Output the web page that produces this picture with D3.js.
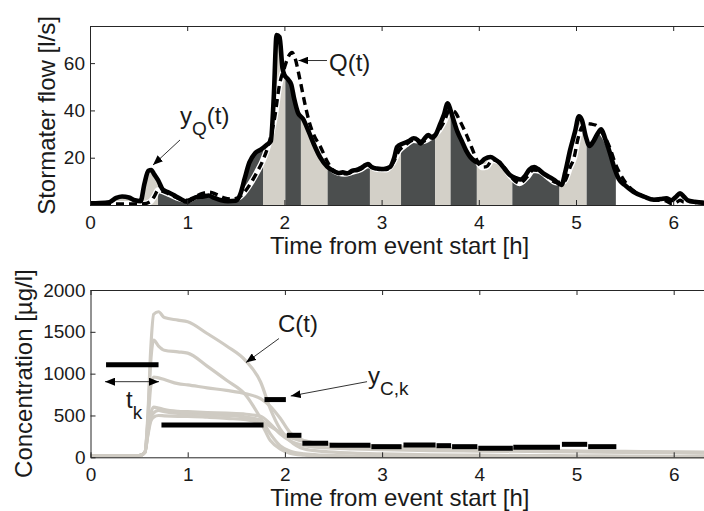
<!DOCTYPE html>
<html><head><meta charset="utf-8">
<script src="https://cdn.jsdelivr.net/npm/d3@7"></script>
<style>
body{margin:0;background:#fff}
svg{display:block}
text{font-family:"Liberation Sans",Arial,Helvetica,sans-serif;fill:#1a1a1a}
</style>
</head><body>
<svg id="c" width="704" height="511"></svg>
<script>
// ---------- data ----------
const xTicks = [0, 1, 2, 3, 4, 5, 6];
const flowTicks = [20, 40, 60];
const concTicks = [0, 500, 1000, 1500, 2000];

// y_Q(t) : solid line (l/s)
const yQTime = [0.00,0.10,0.20,0.27,0.33,0.40,0.46,0.52,0.56,0.60,0.63,0.66,0.70,0.75,0.80,0.86,0.92,1.00,1.05,1.10,1.17,1.22,1.28,1.35,1.42,1.50,1.55,1.59,1.64,1.70,1.76,1.82,1.86,1.89,1.92,1.95,1.98,2.00,2.03,2.07,2.10,2.14,2.19,2.25,2.30,2.37,2.44,2.50,2.56,2.60,2.65,2.70,2.74,2.78,2.82,2.86,2.90,2.95,3.00,3.05,3.09,3.13,3.16,3.22,3.28,3.33,3.37,3.40,3.44,3.48,3.52,3.56,3.60,3.64,3.68,3.71,3.74,3.78,3.82,3.87,3.91,3.96,4.01,4.06,4.12,4.17,4.22,4.27,4.32,4.38,4.43,4.48,4.52,4.57,4.61,4.66,4.72,4.78,4.85,4.89,4.94,4.99,5.03,5.06,5.10,5.14,5.18,5.22,5.26,5.30,5.35,5.40,5.44,5.50,5.59,5.70,5.80,5.87,5.93,5.98,6.03,6.07,6.11,6.15,6.22,6.30,6.40];
const yQValue = [0.7,0.8,1.2,3.0,3.6,3.2,2.0,1.6,9,14.5,14.8,13.0,10.5,6.5,5.5,4.2,2.8,1.4,2.5,3.4,3.6,4.0,3.0,2.0,1.6,1.8,5,11,18,22,23.5,25.5,27,45,71.9,71,58,55,53.5,51,45,39,36.5,31,26,20,16.2,14.5,13.5,13.8,13.4,14.5,14.8,15.5,16.5,17.3,16,15.4,15.2,15.5,16.2,20,24.5,26,27,28.2,27.5,26,28,29.6,28.5,30,34,38,43,40,36,31,27.5,23,20.4,18.5,17.8,19.5,20.3,19.2,17.6,15,12.7,11.4,10.8,12.5,15,16,15.2,13.5,12,10.5,8.5,14,23.3,31,37.5,36,29,25,27,30,32,28,21.9,15,11,8.5,5.6,3.5,2.2,2.5,2.8,2.0,3.5,5,3.5,2.0,1.4,1.0,0.9];

// Q(t) : dashed line (l/s)
const qTime = [0.00,0.30,0.55,0.62,0.66,0.70,0.75,0.82,0.90,1.00,1.08,1.15,1.23,1.30,1.38,1.45,1.52,1.58,1.65,1.72,1.78,1.84,1.90,1.95,2.00,2.04,2.08,2.11,2.16,2.21,2.26,2.31,2.37,2.44,2.50,2.56,2.62,2.70,2.78,2.86,2.95,3.05,3.12,3.18,3.25,3.33,3.42,3.50,3.58,3.64,3.70,3.75,3.80,3.87,3.93,3.98,4.03,4.08,4.14,4.20,4.27,4.33,4.42,4.50,4.56,4.62,4.70,4.80,4.88,4.94,4.98,5.02,5.06,5.11,5.16,5.20,5.25,5.30,5.35,5.40,5.46,5.55,5.65,5.75,5.85,5.92,5.98,6.03,6.07,6.11,6.17,6.25,6.40];
const qValue = [0.4,0.4,0.5,1.4,3.5,6.2,5.8,4.5,3.0,2.0,3.5,4.8,5.4,4.5,3.0,2.5,3.0,5,9,14,19,26,37,51,58,62.7,64.5,62,53,43,34.5,29,24.7,18.5,14.8,13.6,13.2,14.0,15.0,16.8,15.2,15.0,18,23,25.5,27.5,27,28.5,31,35,40,39.5,36,30,24,19,16,16.2,19,18.5,15.5,12,9.2,12,14.8,14.5,12.2,9.5,10,16,20,28,33,34.5,34.2,33.8,31.5,28.5,24,18,12.7,7.5,4.5,2.8,2.0,1.8,0.6,1.0,2.0,1.2,1.5,0.9,0.8];

// C(t) : grey concentration curves (ug/l)
const cTime = [0,0.50,0.56,0.59,0.62,0.65,0.70,0.76,0.90,1.00,1.20,1.40,1.60,1.75,1.85,1.95,2.05,2.20,2.40,2.70,3.00,3.50,4.00,4.50,5.00,5.50,6.00,6.40];
const cCurveA = [20,20,60,500,1300,1710,1740,1670,1640,1620,1480,1330,1150,900,580,340,200,100,70,50,40,30,25,20,18,15,12,10];
const cCurveB = [20,20,60,450,1150,1400,1330,1280,1260,1245,1090,920,740,470,280,140,75,40,25,15,10,8,6,5,5,4,4,4];
const cCurveC = [20,20,60,400,850,960,950,930,880,866,830,800,760,700,610,470,300,200,160,140,120,100,90,80,70,65,60,55];
const cCurveD = [20,20,60,300,520,600,590,570,550,546,535,527,515,490,400,280,200,140,115,100,90,80,75,70,65,60,55,50];
const cCurveE = [20,20,60,280,470,530,560,545,525,520,510,500,480,440,370,300,240,190,160,145,135,110,95,85,75,70,65,60];
const cCurveF = [20,20,60,260,430,480,500,495,490,490,480,465,450,400,200,100,50,25,12,8,6,5,5,5,5,5,5,5];
const cSeries = [cCurveF, cCurveE, cCurveD, cCurveC, cCurveB, cCurveA];

// y_C,k : sample intervals and concentrations
const kStart = [0.16,0.73,1.79,2.02,2.18,2.46,2.89,3.22,3.56,3.72,3.99,4.35,4.85,5.12];
const kEnd   = [0.70,1.78,2.01,2.17,2.445,2.88,3.20,3.55,3.71,3.98,4.345,4.83,5.11,5.41];
const kValue = [1105,387,690,263,168,144,127,147,139,127,107,120,155,127];

// ---------- layout ----------
const svg = d3.select("#c");
const ink = "#262626";
const lightBand = "#d3d0c8", darkBand = "#4b4e4e", greyLine = "#cfcbc3";

const x = d3.scaleLinear().domain([0, 6.4]).range([90, 90 + 6.4 * 97.2]);
const xB = d3.scaleLinear().domain([0, 6.4]).range([90.5, 90.5 + 6.4 * 97.2]);
const yF = d3.scaleLinear().domain([0, 75.7]).range([205, 26]);
const yC = d3.scaleLinear().domain([0, 2000]).range([457.3, 290]);

const defs = svg.append("defs");
defs.append("marker").attr("id", "ah").attr("viewBox", "0 0 10 8")
  .attr("refX", 10).attr("refY", 4).attr("markerWidth", 10).attr("markerHeight", 8)
  .attr("markerUnits", "userSpaceOnUse").attr("orient", "auto-start-reverse")
  .append("path").attr("d", "M0,0L10,4L0,8Z").attr("fill", "#000");

const fmt = d3.format("d");
function drawAxes(g, xs, ys, yTicks, xLabel, yLabel, yLabelX) {
  const [x0, x1] = xs.range();
  const [yb, yt] = ys.range();
  const ax = g.append("g").attr("transform", `translate(0,${yb})`)
    .call(d3.axisBottom(xs).tickValues(xTicks).tickFormat(fmt).tickSize(-5).tickSizeOuter(0).tickPadding(10.5));
  const at = g.append("g").attr("transform", `translate(0,${yt})`)
    .call(d3.axisTop(xs).tickValues(xTicks).tickSize(-5).tickSizeOuter(0).tickFormat(""));
  const al = g.append("g").attr("transform", `translate(${x0},0)`)
    .call(d3.axisLeft(ys).tickValues(yTicks).tickFormat(fmt).tickSize(-5).tickSizeOuter(0).tickPadding(5));
  [ax, at, al].forEach(a => {
    a.selectAll("path,line").attr("stroke", ink).attr("stroke-width", 1);
    a.selectAll("text").attr("font-size", 19).attr("fill", ink)
      .style("font-family", '"Liberation Sans",Arial,sans-serif');
  });
  g.append("text").attr("x", (x0 + 90 + 6.31 * 97.2) / 2 + 3).attr("y", yb + 48.5)
    .attr("text-anchor", "middle").attr("font-size", 24).text(xLabel);
  g.append("text").attr("transform", `translate(${yLabelX},${(yb + yt) / 2}) rotate(-90)`)
    .attr("text-anchor", "middle").attr("font-size", 24).text(yLabel);
}

// ---------- top panel ----------
const topG = svg.append("g");
const area = d3.area().x((d, i) => x(yQTime[i])).y0(yF(0)).y1(d => yF(d)).curve(d3.curveMonotoneX);
defs.append("clipPath").attr("id", "underQ").append("path").attr("d", area(yQValue));
const bands = topG.append("g").attr("clip-path", "url(#underQ)");
kEnd.forEach((e, k) => {
  const s = k === 0 ? kStart[0] : kEnd[k - 1];
  bands.append("rect").attr("x", x(s)).attr("width", x(e) - x(s))
    .attr("y", yF(75.7)).attr("height", yF(0) - yF(75.7))
    .attr("fill", k % 2 === 0 ? lightBand : darkBand);
});
const lineQ = d3.line().x((d, i) => x(qTime[i])).y(d => yF(d)).curve(d3.curveMonotoneX);
const lineY = d3.line().x((d, i) => x(yQTime[i])).y(d => yF(d)).curve(d3.curveMonotoneX);
topG.append("path").attr("d", lineQ(qValue)).attr("fill", "none").attr("stroke", "#fff").attr("stroke-width", 6);
topG.append("path").attr("d", lineY(yQValue)).attr("fill", "none").attr("stroke", "#000")
  .attr("stroke-width", 4.6).attr("stroke-linejoin", "round");
topG.append("path").attr("d", lineQ(qValue)).attr("fill", "none").attr("stroke", "#000")
  .attr("stroke-width", 3.4).attr("stroke-dasharray", "8,5");
drawAxes(topG, x, yF, flowTicks, "Time from event start [h]", "Stormater flow [l/s]", 55);

// ---------- bottom panel ----------
const botG = svg.append("g");
const lineC = d3.line().x((d, i) => xB(cTime[i])).y(d => yC(d)).curve(d3.curveMonotoneX);
cSeries.forEach(s => botG.append("path").attr("d", lineC(s)).attr("fill", "none")
  .attr("stroke", greyLine).attr("stroke-width", 3.2));
kValue.forEach((v, k) => botG.append("line")
  .attr("x1", xB(kStart[k])).attr("x2", xB(kEnd[k]))
  .attr("y1", yC(v)).attr("y2", yC(v)).attr("stroke", "#000").attr("stroke-width", 5));
drawAxes(botG, xB, yC, concTicks, "Time from event start [h]", "Concentration [\u00b5g/l]", 32);

// ---------- annotations (data coordinates) ----------
function arrow(g, xs, ys, a, b, both) {
  const l = g.append("line").attr("x1", xs(a[0])).attr("y1", ys(a[1]))
    .attr("x2", xs(b[0])).attr("y2", ys(b[1]))
    .attr("stroke", "#333").attr("stroke-width", 1).attr("marker-end", "url(#ah)");
  if (both) l.attr("marker-start", "url(#ah)");
}
function label(g, xs, ys, p, main, sub, tail) {
  const t = g.append("text").attr("x", xs(p[0])).attr("y", ys(p[1])).attr("font-size", 24);
  t.append("tspan").text(main);
  if (sub) t.append("tspan").attr("font-size", 19).attr("dy", 10.5).text(sub);
  if (tail) t.append("tspan").attr("dy", -10.5).text(tail);
}
label(topG, x, yF, [2.459, 56.7], "Q(t)");
arrow(topG, x, yF, [2.438, 61.1], [2.145, 61.1]);
label(topG, x, yF, [0.926, 34.2], "y", "Q", "(t)");
arrow(topG, x, yF, [0.926, 27.5], [0.648, 16.9]);

label(botG, xB, yC, [1.929, 1498], "C(t)");
arrow(botG, xB, yC, [1.939, 1420], [1.600, 1133]);
arrow(botG, xB, yC, [0.149, 904], [0.705, 904], true);
label(botG, xB, yC, [0.365, 589], "t", "k");
label(botG, xB, yC, [2.855, 876], "y", "C,k");
arrow(botG, xB, yC, [2.845, 904], [2.06, 733]);
</script>
</body></html>
